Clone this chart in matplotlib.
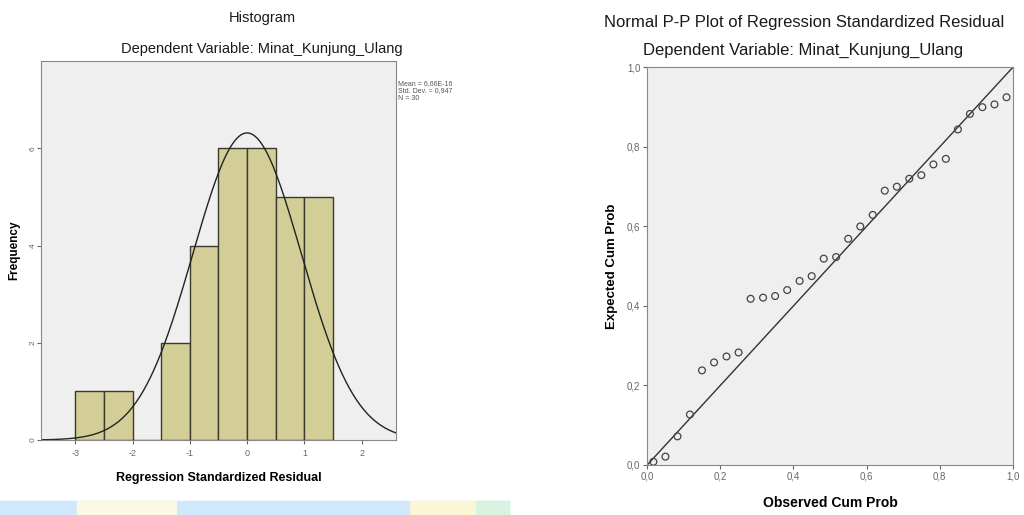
import numpy as np
import matplotlib.pyplot as plt
from matplotlib.patches import Rectangle

plt.rcParams['font.family'] = ['Liberation Sans', 'DejaVu Sans']
plt.rcParams['axes.unicode_minus'] = False

# histogram of standardized residuals (bin edges and counts)
bin_left = [-3.0, -2.5, -2.0, -1.5, -1.0, -0.5, 0.0, 0.5, 1.0]
bin_counts = [1, 1, 0, 2, 4, 6, 6, 5, 5]
bin_width = 0.5
res_mean = 0.0
res_sd = 0.947
n_obs = 30
stats_text = "Mean = 6,66E-16\nStd. Dev. = 0,947\nN = 30"

# P-P plot points
observed_cum = [0.017, 0.050, 0.083, 0.117, 0.150, 0.183, 0.217, 0.250, 0.283, 0.317,
                0.350, 0.383, 0.417, 0.450, 0.483, 0.517, 0.550, 0.583, 0.617, 0.650,
                0.683, 0.717, 0.750, 0.783, 0.817, 0.850, 0.883, 0.917, 0.950, 0.983]
expected_cum = [0.008, 0.021, 0.072, 0.127, 0.238, 0.258, 0.273, 0.283, 0.418, 0.421,
                0.425, 0.440, 0.463, 0.475, 0.519, 0.523, 0.569, 0.600, 0.629, 0.690,
                0.700, 0.720, 0.729, 0.756, 0.770, 0.844, 0.883, 0.900, 0.907, 0.925]
pp_ticks = [0.0, 0.2, 0.4, 0.6, 0.8, 1.0]

panel_bg = '#efefef'
bar_color = '#d3ce97'
tick_color = '#666666'
title_color = '#1a1a1a'

fig = plt.figure(figsize=(10.24, 5.15), dpi=100)

# background strip at the bottom of the screenshot
strip = [(0.0, 0.497, '#cfe8fb'), (0.075, 0.097, '#fbf9e4'),
         (0.400, 0.065, '#fbf7d6'), (0.465, 0.032, '#d8f3e0')]
for x0, w, c in strip:
    fig.patches.append(Rectangle((x0, 0.0), w, 0.027, transform=fig.transFigure,
                                 color=c, zorder=-5))

# ---- histogram ----
ax1 = fig.add_axes([0.040, 0.1456, 0.3467, 0.736])
ax1.set_facecolor(panel_bg)
ax1.bar(bin_left, bin_counts, width=bin_width, align='edge', color=bar_color,
        edgecolor='#3a3a2a', linewidth=1.0)
xs = np.linspace(-3.6, 2.6, 300)
curve = n_obs * bin_width / (res_sd * np.sqrt(2 * np.pi)) * np.exp(-0.5 * ((xs - res_mean) / res_sd) ** 2)
ax1.plot(xs, curve, color='#222222', linewidth=1.0)
ax1.set_xlim(-3.6, 2.6)
ax1.set_ylim(0, 7.8)
ax1.set_xticks([-3, -2, -1, 0, 1, 2])
ax1.set_yticks([0, 2, 4, 6])
ax1.tick_params(axis='y', labelrotation=90, labelsize=6, colors=tick_color, length=3, pad=0)
ax1.tick_params(axis='x', labelsize=6.5, colors=tick_color, length=3)
for lbl in ax1.get_yticklabels():
    lbl.set_va('center')
ax1.set_xlabel('Regression Standardized Residual', fontsize=9, fontweight='bold', labelpad=10)
ax1.set_ylabel('Frequency', fontsize=8.5, fontweight='bold')
ax1.yaxis.set_label_coords(-0.058, 0.5)
for sp in ax1.spines.values():
    sp.set_color('#888888')
ax1.text(1.005, 0.95, stats_text, transform=ax1.transAxes, fontsize=5,
         va='top', ha='left', color='#555555', linespacing=1.1)
fig.text(0.256, 0.965, 'Histogram', fontsize=10.5, ha='center', va='center', color=title_color)
fig.text(0.256, 0.905, 'Dependent Variable: Minat_Kunjung_Ulang', fontsize=10.5,
         ha='center', va='center', color=title_color)

# ---- P-P plot ----
ax2 = fig.add_axes([0.632, 0.0971, 0.357, 0.772])
ax2.set_facecolor(panel_bg)
ax2.plot([0, 1], [0, 1], color='#333333', linewidth=1.0)
ax2.scatter(observed_cum, expected_cum, s=24, facecolors='none', edgecolors='#444444',
            linewidths=0.9, zorder=3)
ax2.set_xlim(0, 1)
ax2.set_ylim(0, 1)
ax2.set_xticks(pp_ticks)
ax2.set_yticks(pp_ticks)
ax2.set_xticklabels([f'{t:.1f}'.replace('.', ',') for t in pp_ticks])
ax2.set_yticklabels([f'{t:.1f}'.replace('.', ',') for t in pp_ticks])
ax2.tick_params(labelsize=7, colors=tick_color, length=3, pad=2)
ax2.set_xlabel('Observed Cum Prob', fontsize=10, fontweight='bold', labelpad=10)
ax2.set_ylabel('Expected Cum Prob', fontsize=9.5, fontweight='bold', labelpad=6)
for sp in ax2.spines.values():
    sp.set_color('#888888')
fig.text(0.785, 0.957, 'Normal P-P Plot of Regression Standardized Residual', fontsize=12,
         ha='center', va='center', color=title_color)
fig.text(0.784, 0.903, 'Dependent Variable: Minat_Kunjung_Ulang', fontsize=12,
         ha='center', va='center', color=title_color)

fig.savefig('out.png', dpi=100)
